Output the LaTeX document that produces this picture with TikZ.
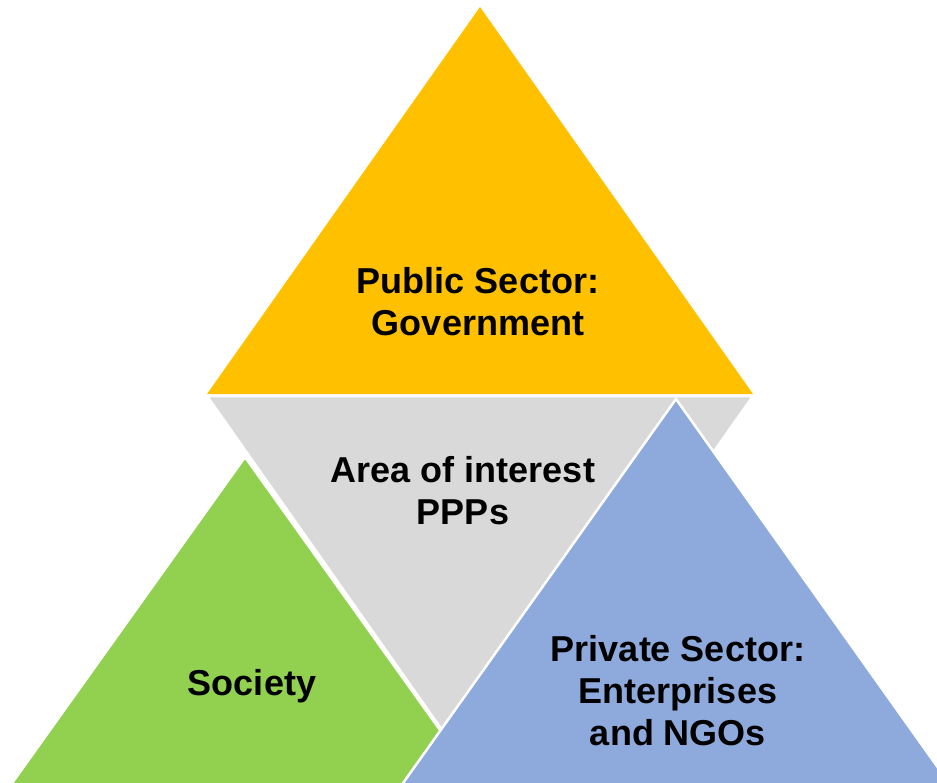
\documentclass[tikz,border=0pt]{standalone}
\usepackage{fontspec}
\setmainfont{Liberation Sans}
\definecolor{pporange}{HTML}{FFC000}
\definecolor{ppgray}{HTML}{D9D9D9}
\definecolor{ppgreen}{HTML}{92D050}
\definecolor{ppblue}{HTML}{8EA9DB}
\begin{document}
\begin{tikzpicture}[x=1pt,y=-1pt,
  tri/.style={draw=white,line width=2.5pt,line join=miter},
  lbl/.style={align=center,inner sep=0pt,font=\fontsize{36}{42}\selectfont\bfseries,text=black}]
\useasboundingbox (0,0) rectangle (937,782);
\clip (0,0) rectangle (937,782);
\fill[pporange] (480,7) -- (753,394) -- (207,394) -- cycle;
\filldraw[tri,fill=ppgray] (207,396) -- (753,396) -- (480,784) -- cycle;
\filldraw[tri,fill=ppgreen] (245,457) -- (490,800) -- (0,800) -- cycle;
\filldraw[tri,fill=ppblue] (676,399) -- (961,800) -- (391,800) -- cycle;
\node[lbl] (pub) at (478,302) {Public Sector:\\Government};
\node[lbl] (area) at (463,491) {Area of interest\\PPPs};
\node[lbl] (soc) at (252,686) {Society};
\node[lbl] (priv) at (678,691) {Private Sector:\\Enterprises\\and NGOs};
\end{tikzpicture}
\end{document}
